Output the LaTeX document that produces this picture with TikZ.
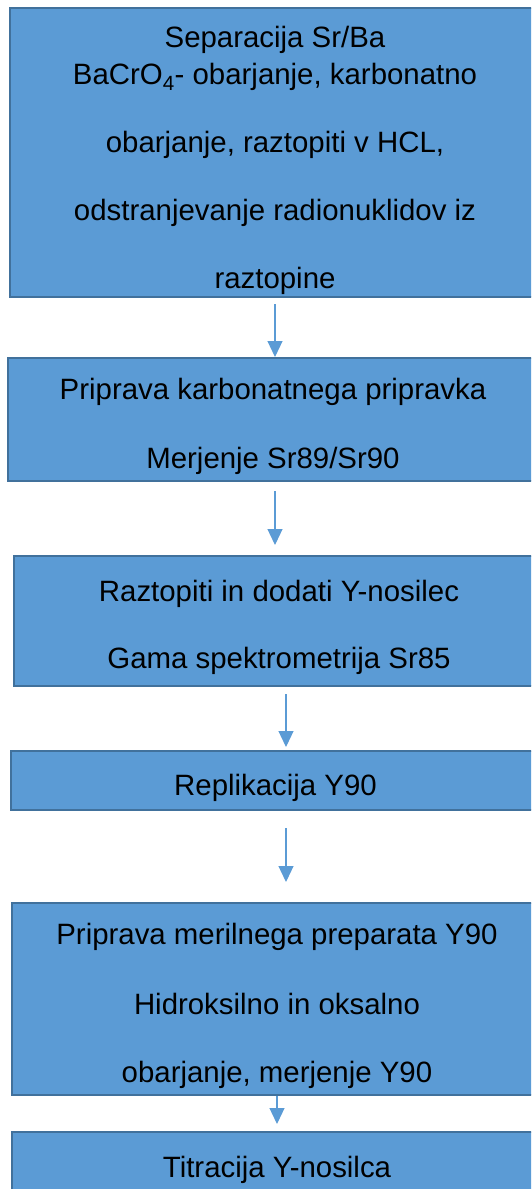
\documentclass[tikz,border=0pt]{standalone}
\usepackage{fontspec}
\setmainfont{Liberation Sans}
\usepackage{tikz}
\usetikzlibrary{arrows.meta}
\definecolor{stagefill}{HTML}{5B9BD5}
\definecolor{stageborder}{HTML}{41719C}

\begin{document}
\begin{tikzpicture}[x=1pt,y=-1pt,
                stage/.style={rectangle,draw=stageborder,fill=stagefill,line width=2pt,minimum width=530,inner sep=0},
                stagetext/.style={align=center,inner sep=0,yshift=-7pt,font=\fontsize{29.4}{37}\selectfont},
                flow/.style={draw=stagefill,line width=1.2pt,-{Triangle[width=15pt,length=16pt]}}
            ]
                \clip (0,0) rectangle (531,1189);
                \node[stage,minimum height=289] (sep) at (275,152.5) { };
                \node[stage,minimum height=123] (karb) at (273,419.5) { };
                \node[stage,minimum height=130] (raz) at (279,621) { };
                \node[stage,minimum height=59] (repl) at (275.5,780.5) { };
                \node[stage,minimum height=192] (meril) at (277,999) { };
                \node[stage,minimum height=62] (titr) at (277,1163) { };
                \node[stagetext,yshift=-1pt] (septext) at (sep) {Separacija Sr/Ba\\BaCrO\textsubscript{4}- obarjanje, karbonatno\\[31pt]obarjanje, raztopiti v HCL,\\[31pt]odstranjevanje radionuklidov iz\\[31pt]raztopine};
                \node[stagetext] (karbtext) at (karb) {Priprava karbonatnega pripravka\\[32pt]Merjenje Sr89/Sr90};
                \node[stagetext,yshift=1pt] (raztext) at (raz) {Raztopiti in dodati Y-nosilec\\[30pt]Gama spektrometrija Sr85};
                \node[stagetext] (repltext) at (repl) {Replikacija Y90};
                \node[stagetext] (meriltext) at (meril) {Priprava merilnega preparata Y90\\[33pt]Hidroksilno in oksalno\\[30.5pt]obarjanje, merjenje Y90};
                \node[stagetext] (titrtext) at (titr) {Titracija Y-nosilca};
                \draw[flow] ([yshift=-6pt]sep.south) -- ([xshift=2pt]karb.north);
                \draw[flow] ([xshift=2pt,yshift=-9pt]karb.south) -- ([xshift=-4pt,yshift=10pt]raz.north);
                \draw[flow] ([xshift=7pt,yshift=-7pt]raz.south) -- ([xshift=10.5pt,yshift=3pt]repl.north);
                \draw[flow] ([xshift=10.5pt,yshift=-17pt]repl.south) -- ([xshift=9pt,yshift=20pt]meril.north);
                \draw[flow] (meril.south) -- ([yshift=7pt]titr.north);

            \end{tikzpicture}
\end{document}
